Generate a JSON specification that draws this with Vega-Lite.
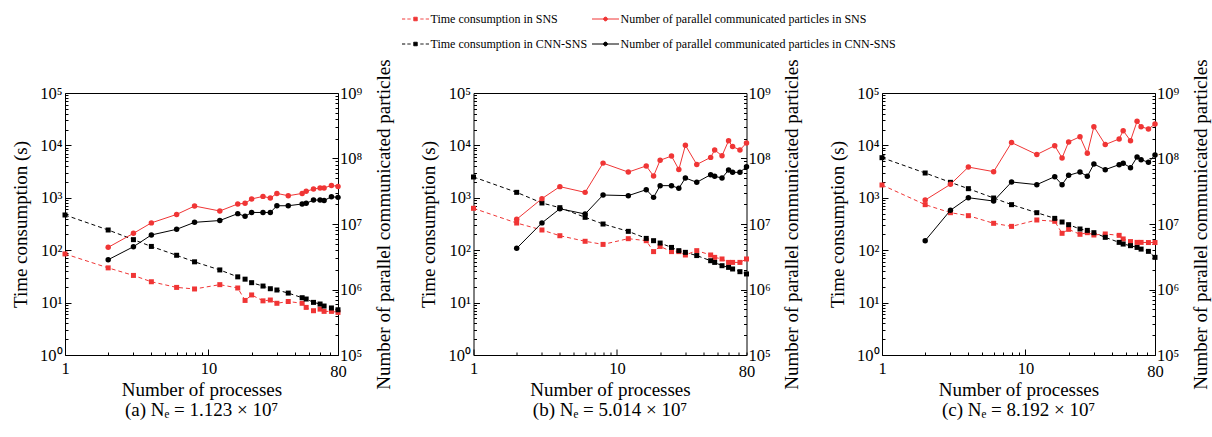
{
"$schema": "https://vega.github.io/schema/vega-lite/v6.json",
"background": "white",
"padding": {"left": 10, "top": 4, "right": 2, "bottom": 2},
"bounds": "flush",
"spacing": 135.5,
"config": {
  "font": "Liberation Serif",
  "view": {"stroke": "black", "strokeWidth": 1},
  "axis": {"grid": false, "domain": false, "labelFont": "Liberation Serif", "labelFontSize": 16.5, "labelColor": "black", "titleFont": "Liberation Serif", "titleFontSize": 19, "titleFontWeight": "normal", "titleColor": "black", "tickColor": "black", "tickWidth": 1, "labelOverlap": false, "labelFlush": false},
  "title": {"font": "Liberation Serif", "fontSize": 19, "fontWeight": "normal", "color": "black"}
},
"resolve": {"scale": {"color": "independent"}, "legend": {"color": "independent"}},
"data": {"values": [
{"panel":"a","series":"Time consumption in SNS","processes":1,"value":85},
{"panel":"a","series":"Time consumption in SNS","processes":2,"value":46},
{"panel":"a","series":"Time consumption in SNS","processes":3,"value":33},
{"panel":"a","series":"Time consumption in SNS","processes":4,"value":25},
{"panel":"a","series":"Time consumption in SNS","processes":6,"value":19.5},
{"panel":"a","series":"Time consumption in SNS","processes":8,"value":18.2},
{"panel":"a","series":"Time consumption in SNS","processes":12,"value":22},
{"panel":"a","series":"Time consumption in SNS","processes":16,"value":19},
{"panel":"a","series":"Time consumption in SNS","processes":18,"value":11},
{"panel":"a","series":"Time consumption in SNS","processes":20,"value":14},
{"panel":"a","series":"Time consumption in SNS","processes":24,"value":10.8},
{"panel":"a","series":"Time consumption in SNS","processes":27,"value":11.2},
{"panel":"a","series":"Time consumption in SNS","processes":30,"value":9.7},
{"panel":"a","series":"Time consumption in SNS","processes":36,"value":10.5},
{"panel":"a","series":"Time consumption in SNS","processes":45,"value":9.7},
{"panel":"a","series":"Time consumption in SNS","processes":48,"value":8.1},
{"panel":"a","series":"Time consumption in SNS","processes":54,"value":7.0},
{"panel":"a","series":"Time consumption in SNS","processes":60,"value":7.5},
{"panel":"a","series":"Time consumption in SNS","processes":64,"value":6.8},
{"panel":"a","series":"Time consumption in SNS","processes":72,"value":6.8},
{"panel":"a","series":"Time consumption in SNS","processes":80,"value":6.5},
{"panel":"a","series":"Time consumption in CNN-SNS","processes":1,"value":470},
{"panel":"a","series":"Time consumption in CNN-SNS","processes":2,"value":243},
{"panel":"a","series":"Time consumption in CNN-SNS","processes":3,"value":159},
{"panel":"a","series":"Time consumption in CNN-SNS","processes":4,"value":118},
{"panel":"a","series":"Time consumption in CNN-SNS","processes":6,"value":80},
{"panel":"a","series":"Time consumption in CNN-SNS","processes":8,"value":60},
{"panel":"a","series":"Time consumption in CNN-SNS","processes":12,"value":42},
{"panel":"a","series":"Time consumption in CNN-SNS","processes":16,"value":31},
{"panel":"a","series":"Time consumption in CNN-SNS","processes":18,"value":28},
{"panel":"a","series":"Time consumption in CNN-SNS","processes":20,"value":24},
{"panel":"a","series":"Time consumption in CNN-SNS","processes":24,"value":20.7},
{"panel":"a","series":"Time consumption in CNN-SNS","processes":27,"value":18.4},
{"panel":"a","series":"Time consumption in CNN-SNS","processes":30,"value":17.4},
{"panel":"a","series":"Time consumption in CNN-SNS","processes":36,"value":15.2},
{"panel":"a","series":"Time consumption in CNN-SNS","processes":45,"value":12.4},
{"panel":"a","series":"Time consumption in CNN-SNS","processes":48,"value":11.7},
{"panel":"a","series":"Time consumption in CNN-SNS","processes":54,"value":10.1},
{"panel":"a","series":"Time consumption in CNN-SNS","processes":60,"value":9.4},
{"panel":"a","series":"Time consumption in CNN-SNS","processes":64,"value":8.6},
{"panel":"a","series":"Time consumption in CNN-SNS","processes":72,"value":7.9},
{"panel":"a","series":"Time consumption in CNN-SNS","processes":80,"value":7.3},
{"panel":"a","series":"Number of parallel communicated particles in SNS","processes":2,"value":4400000},
{"panel":"a","series":"Number of parallel communicated particles in SNS","processes":3,"value":7200000},
{"panel":"a","series":"Number of parallel communicated particles in SNS","processes":4,"value":10400000},
{"panel":"a","series":"Number of parallel communicated particles in SNS","processes":6,"value":14000000},
{"panel":"a","series":"Number of parallel communicated particles in SNS","processes":8,"value":18800000},
{"panel":"a","series":"Number of parallel communicated particles in SNS","processes":12,"value":15800000},
{"panel":"a","series":"Number of parallel communicated particles in SNS","processes":16,"value":20200000},
{"panel":"a","series":"Number of parallel communicated particles in SNS","processes":18,"value":20700000},
{"panel":"a","series":"Number of parallel communicated particles in SNS","processes":20,"value":24100000},
{"panel":"a","series":"Number of parallel communicated particles in SNS","processes":24,"value":26400000},
{"panel":"a","series":"Number of parallel communicated particles in SNS","processes":27,"value":24900000},
{"panel":"a","series":"Number of parallel communicated particles in SNS","processes":30,"value":29300000},
{"panel":"a","series":"Number of parallel communicated particles in SNS","processes":36,"value":27000000},
{"panel":"a","series":"Number of parallel communicated particles in SNS","processes":45,"value":29300000},
{"panel":"a","series":"Number of parallel communicated particles in SNS","processes":48,"value":31500000},
{"panel":"a","series":"Number of parallel communicated particles in SNS","processes":54,"value":34200000},
{"panel":"a","series":"Number of parallel communicated particles in SNS","processes":60,"value":35500000},
{"panel":"a","series":"Number of parallel communicated particles in SNS","processes":64,"value":35500000},
{"panel":"a","series":"Number of parallel communicated particles in SNS","processes":72,"value":38800000},
{"panel":"a","series":"Number of parallel communicated particles in SNS","processes":80,"value":37500000},
{"panel":"a","series":"Number of parallel communicated particles in CNN-SNS","processes":2,"value":2850000},
{"panel":"a","series":"Number of parallel communicated particles in CNN-SNS","processes":3,"value":4500000},
{"panel":"a","series":"Number of parallel communicated particles in CNN-SNS","processes":4,"value":6800000},
{"panel":"a","series":"Number of parallel communicated particles in CNN-SNS","processes":6,"value":8300000},
{"panel":"a","series":"Number of parallel communicated particles in CNN-SNS","processes":8,"value":10600000},
{"panel":"a","series":"Number of parallel communicated particles in CNN-SNS","processes":12,"value":11300000},
{"panel":"a","series":"Number of parallel communicated particles in CNN-SNS","processes":16,"value":14400000},
{"panel":"a","series":"Number of parallel communicated particles in CNN-SNS","processes":18,"value":13100000},
{"panel":"a","series":"Number of parallel communicated particles in CNN-SNS","processes":20,"value":15000000},
{"panel":"a","series":"Number of parallel communicated particles in CNN-SNS","processes":24,"value":15000000},
{"panel":"a","series":"Number of parallel communicated particles in CNN-SNS","processes":27,"value":15000000},
{"panel":"a","series":"Number of parallel communicated particles in CNN-SNS","processes":30,"value":19000000},
{"panel":"a","series":"Number of parallel communicated particles in CNN-SNS","processes":36,"value":19000000},
{"panel":"a","series":"Number of parallel communicated particles in CNN-SNS","processes":45,"value":20200000},
{"panel":"a","series":"Number of parallel communicated particles in CNN-SNS","processes":48,"value":20700000},
{"panel":"a","series":"Number of parallel communicated particles in CNN-SNS","processes":54,"value":23200000},
{"panel":"a","series":"Number of parallel communicated particles in CNN-SNS","processes":60,"value":23200000},
{"panel":"a","series":"Number of parallel communicated particles in CNN-SNS","processes":64,"value":22800000},
{"panel":"a","series":"Number of parallel communicated particles in CNN-SNS","processes":72,"value":26100000},
{"panel":"a","series":"Number of parallel communicated particles in CNN-SNS","processes":80,"value":25500000},
{"panel":"b","series":"Time consumption in SNS","processes":1,"value":630},
{"panel":"b","series":"Time consumption in SNS","processes":2,"value":330},
{"panel":"b","series":"Time consumption in SNS","processes":3,"value":243},
{"panel":"b","series":"Time consumption in SNS","processes":4,"value":189},
{"panel":"b","series":"Time consumption in SNS","processes":6,"value":148},
{"panel":"b","series":"Time consumption in SNS","processes":8,"value":129},
{"panel":"b","series":"Time consumption in SNS","processes":12,"value":166},
{"panel":"b","series":"Time consumption in SNS","processes":16,"value":152},
{"panel":"b","series":"Time consumption in SNS","processes":18,"value":94},
{"panel":"b","series":"Time consumption in SNS","processes":20,"value":118},
{"panel":"b","series":"Time consumption in SNS","processes":24,"value":94},
{"panel":"b","series":"Time consumption in SNS","processes":27,"value":94},
{"panel":"b","series":"Time consumption in SNS","processes":30,"value":81},
{"panel":"b","series":"Time consumption in SNS","processes":36,"value":98},
{"panel":"b","series":"Time consumption in SNS","processes":45,"value":81},
{"panel":"b","series":"Time consumption in SNS","processes":48,"value":73},
{"panel":"b","series":"Time consumption in SNS","processes":54,"value":68},
{"panel":"b","series":"Time consumption in SNS","processes":60,"value":58.5},
{"panel":"b","series":"Time consumption in SNS","processes":64,"value":58.5},
{"panel":"b","series":"Time consumption in SNS","processes":72,"value":58.5},
{"panel":"b","series":"Time consumption in SNS","processes":80,"value":68},
{"panel":"b","series":"Time consumption in CNN-SNS","processes":1,"value":2495},
{"panel":"b","series":"Time consumption in CNN-SNS","processes":2,"value":1271},
{"panel":"b","series":"Time consumption in CNN-SNS","processes":3,"value":796},
{"panel":"b","series":"Time consumption in CNN-SNS","processes":4,"value":648},
{"panel":"b","series":"Time consumption in CNN-SNS","processes":6,"value":424},
{"panel":"b","series":"Time consumption in CNN-SNS","processes":8,"value":316},
{"panel":"b","series":"Time consumption in CNN-SNS","processes":12,"value":229},
{"panel":"b","series":"Time consumption in CNN-SNS","processes":16,"value":168},
{"panel":"b","series":"Time consumption in CNN-SNS","processes":18,"value":152},
{"panel":"b","series":"Time consumption in CNN-SNS","processes":20,"value":137},
{"panel":"b","series":"Time consumption in CNN-SNS","processes":24,"value":113},
{"panel":"b","series":"Time consumption in CNN-SNS","processes":27,"value":98},
{"panel":"b","series":"Time consumption in CNN-SNS","processes":30,"value":91},
{"panel":"b","series":"Time consumption in CNN-SNS","processes":36,"value":79},
{"panel":"b","series":"Time consumption in CNN-SNS","processes":45,"value":63},
{"panel":"b","series":"Time consumption in CNN-SNS","processes":48,"value":58.5},
{"panel":"b","series":"Time consumption in CNN-SNS","processes":54,"value":50.6},
{"panel":"b","series":"Time consumption in CNN-SNS","processes":60,"value":47},
{"panel":"b","series":"Time consumption in CNN-SNS","processes":64,"value":43.8},
{"panel":"b","series":"Time consumption in CNN-SNS","processes":72,"value":38.9},
{"panel":"b","series":"Time consumption in CNN-SNS","processes":80,"value":35.2},
{"panel":"b","series":"Number of parallel communicated particles in SNS","processes":2,"value":11800000},
{"panel":"b","series":"Number of parallel communicated particles in SNS","processes":3,"value":24400000},
{"panel":"b","series":"Number of parallel communicated particles in SNS","processes":4,"value":37200000},
{"panel":"b","series":"Number of parallel communicated particles in SNS","processes":6,"value":30400000},
{"panel":"b","series":"Number of parallel communicated particles in SNS","processes":8,"value":85000000},
{"panel":"b","series":"Number of parallel communicated particles in SNS","processes":12,"value":62000000},
{"panel":"b","series":"Number of parallel communicated particles in SNS","processes":16,"value":77000000},
{"panel":"b","series":"Number of parallel communicated particles in SNS","processes":18,"value":54000000},
{"panel":"b","series":"Number of parallel communicated particles in SNS","processes":20,"value":94000000},
{"panel":"b","series":"Number of parallel communicated particles in SNS","processes":24,"value":109000000},
{"panel":"b","series":"Number of parallel communicated particles in SNS","processes":27,"value":68000000},
{"panel":"b","series":"Number of parallel communicated particles in SNS","processes":30,"value":159000000},
{"panel":"b","series":"Number of parallel communicated particles in SNS","processes":36,"value":81000000},
{"panel":"b","series":"Number of parallel communicated particles in SNS","processes":45,"value":104000000},
{"panel":"b","series":"Number of parallel communicated particles in SNS","processes":48,"value":135000000},
{"panel":"b","series":"Number of parallel communicated particles in SNS","processes":54,"value":110000000},
{"panel":"b","series":"Number of parallel communicated particles in SNS","processes":60,"value":187000000},
{"panel":"b","series":"Number of parallel communicated particles in SNS","processes":64,"value":152000000},
{"panel":"b","series":"Number of parallel communicated particles in SNS","processes":72,"value":135000000},
{"panel":"b","series":"Number of parallel communicated particles in SNS","processes":80,"value":173000000},
{"panel":"b","series":"Number of parallel communicated particles in CNN-SNS","processes":2,"value":4250000},
{"panel":"b","series":"Number of parallel communicated particles in CNN-SNS","processes":3,"value":10400000},
{"panel":"b","series":"Number of parallel communicated particles in CNN-SNS","processes":4,"value":17100000},
{"panel":"b","series":"Number of parallel communicated particles in CNN-SNS","processes":6,"value":14200000},
{"panel":"b","series":"Number of parallel communicated particles in CNN-SNS","processes":8,"value":27700000},
{"panel":"b","series":"Number of parallel communicated particles in CNN-SNS","processes":12,"value":27100000},
{"panel":"b","series":"Number of parallel communicated particles in CNN-SNS","processes":16,"value":33400000},
{"panel":"b","series":"Number of parallel communicated particles in CNN-SNS","processes":18,"value":25500000},
{"panel":"b","series":"Number of parallel communicated particles in CNN-SNS","processes":20,"value":38500000},
{"panel":"b","series":"Number of parallel communicated particles in CNN-SNS","processes":24,"value":38500000},
{"panel":"b","series":"Number of parallel communicated particles in CNN-SNS","processes":27,"value":35000000},
{"panel":"b","series":"Number of parallel communicated particles in CNN-SNS","processes":30,"value":50400000},
{"panel":"b","series":"Number of parallel communicated particles in CNN-SNS","processes":36,"value":43300000},
{"panel":"b","series":"Number of parallel communicated particles in CNN-SNS","processes":45,"value":56600000},
{"panel":"b","series":"Number of parallel communicated particles in CNN-SNS","processes":48,"value":53400000},
{"panel":"b","series":"Number of parallel communicated particles in CNN-SNS","processes":54,"value":50400000},
{"panel":"b","series":"Number of parallel communicated particles in CNN-SNS","processes":60,"value":66700000},
{"panel":"b","series":"Number of parallel communicated particles in CNN-SNS","processes":64,"value":61500000},
{"panel":"b","series":"Number of parallel communicated particles in CNN-SNS","processes":72,"value":61500000},
{"panel":"b","series":"Number of parallel communicated particles in CNN-SNS","processes":80,"value":75000000},
{"panel":"c","series":"Time consumption in SNS","processes":1,"value":1755},
{"panel":"c","series":"Time consumption in SNS","processes":2,"value":740},
{"panel":"c","series":"Time consumption in SNS","processes":3,"value":520},
{"panel":"c","series":"Time consumption in SNS","processes":4,"value":456},
{"panel":"c","series":"Time consumption in SNS","processes":6,"value":326},
{"panel":"c","series":"Time consumption in SNS","processes":8,"value":285},
{"panel":"c","series":"Time consumption in SNS","processes":12,"value":377},
{"panel":"c","series":"Time consumption in SNS","processes":16,"value":356},
{"panel":"c","series":"Time consumption in SNS","processes":18,"value":210},
{"panel":"c","series":"Time consumption in SNS","processes":20,"value":250},
{"panel":"c","series":"Time consumption in SNS","processes":24,"value":201},
{"panel":"c","series":"Time consumption in SNS","processes":27,"value":216},
{"panel":"c","series":"Time consumption in SNS","processes":30,"value":195},
{"panel":"c","series":"Time consumption in SNS","processes":36,"value":204},
{"panel":"c","series":"Time consumption in SNS","processes":45,"value":192},
{"panel":"c","series":"Time consumption in SNS","processes":48,"value":164},
{"panel":"c","series":"Time consumption in SNS","processes":54,"value":146},
{"panel":"c","series":"Time consumption in SNS","processes":60,"value":141},
{"panel":"c","series":"Time consumption in SNS","processes":64,"value":141},
{"panel":"c","series":"Time consumption in SNS","processes":72,"value":140},
{"panel":"c","series":"Time consumption in SNS","processes":80,"value":140},
{"panel":"c","series":"Time consumption in CNN-SNS","processes":1,"value":5830},
{"panel":"c","series":"Time consumption in CNN-SNS","processes":2,"value":2973},
{"panel":"c","series":"Time consumption in CNN-SNS","processes":3,"value":1973},
{"panel":"c","series":"Time consumption in CNN-SNS","processes":4,"value":1494},
{"panel":"c","series":"Time consumption in CNN-SNS","processes":6,"value":991},
{"panel":"c","series":"Time consumption in CNN-SNS","processes":8,"value":740},
{"panel":"c","series":"Time consumption in CNN-SNS","processes":12,"value":520},
{"panel":"c","series":"Time consumption in CNN-SNS","processes":16,"value":405},
{"panel":"c","series":"Time consumption in CNN-SNS","processes":18,"value":345},
{"panel":"c","series":"Time consumption in CNN-SNS","processes":20,"value":307},
{"panel":"c","series":"Time consumption in CNN-SNS","processes":24,"value":254},
{"panel":"c","series":"Time consumption in CNN-SNS","processes":27,"value":239},
{"panel":"c","series":"Time consumption in CNN-SNS","processes":30,"value":216},
{"panel":"c","series":"Time consumption in CNN-SNS","processes":36,"value":176},
{"panel":"c","series":"Time consumption in CNN-SNS","processes":45,"value":141},
{"panel":"c","series":"Time consumption in CNN-SNS","processes":48,"value":131},
{"panel":"c","series":"Time consumption in CNN-SNS","processes":54,"value":122},
{"panel":"c","series":"Time consumption in CNN-SNS","processes":60,"value":113},
{"panel":"c","series":"Time consumption in CNN-SNS","processes":64,"value":105},
{"panel":"c","series":"Time consumption in CNN-SNS","processes":72,"value":95},
{"panel":"c","series":"Time consumption in CNN-SNS","processes":80,"value":73},
{"panel":"c","series":"Number of parallel communicated particles in SNS","processes":2,"value":23200000},
{"panel":"c","series":"Number of parallel communicated particles in SNS","processes":3,"value":40300000},
{"panel":"c","series":"Number of parallel communicated particles in SNS","processes":4,"value":74000000},
{"panel":"c","series":"Number of parallel communicated particles in SNS","processes":6,"value":63000000},
{"panel":"c","series":"Number of parallel communicated particles in SNS","processes":8,"value":175000000},
{"panel":"c","series":"Number of parallel communicated particles in SNS","processes":12,"value":115000000},
{"panel":"c","series":"Number of parallel communicated particles in SNS","processes":16,"value":157000000},
{"panel":"c","series":"Number of parallel communicated particles in SNS","processes":18,"value":102000000},
{"panel":"c","series":"Number of parallel communicated particles in SNS","processes":20,"value":179000000},
{"panel":"c","series":"Number of parallel communicated particles in SNS","processes":24,"value":215000000},
{"panel":"c","series":"Number of parallel communicated particles in SNS","processes":27,"value":120000000},
{"panel":"c","series":"Number of parallel communicated particles in SNS","processes":30,"value":306000000},
{"panel":"c","series":"Number of parallel communicated particles in SNS","processes":36,"value":163000000},
{"panel":"c","series":"Number of parallel communicated particles in SNS","processes":45,"value":199000000},
{"panel":"c","series":"Number of parallel communicated particles in SNS","processes":48,"value":266000000},
{"panel":"c","series":"Number of parallel communicated particles in SNS","processes":54,"value":187000000},
{"panel":"c","series":"Number of parallel communicated particles in SNS","processes":60,"value":369000000},
{"panel":"c","series":"Number of parallel communicated particles in SNS","processes":64,"value":306000000},
{"panel":"c","series":"Number of parallel communicated particles in SNS","processes":72,"value":282000000},
{"panel":"c","series":"Number of parallel communicated particles in SNS","processes":80,"value":336000000},
{"panel":"c","series":"Number of parallel communicated particles in CNN-SNS","processes":2,"value":5570000},
{"panel":"c","series":"Number of parallel communicated particles in CNN-SNS","processes":3,"value":16200000},
{"panel":"c","series":"Number of parallel communicated particles in CNN-SNS","processes":4,"value":25200000},
{"panel":"c","series":"Number of parallel communicated particles in CNN-SNS","processes":6,"value":22400000},
{"panel":"c","series":"Number of parallel communicated particles in CNN-SNS","processes":8,"value":43800000},
{"panel":"c","series":"Number of parallel communicated particles in CNN-SNS","processes":12,"value":39900000},
{"panel":"c","series":"Number of parallel communicated particles in CNN-SNS","processes":16,"value":52800000},
{"panel":"c","series":"Number of parallel communicated particles in CNN-SNS","processes":18,"value":39900000},
{"panel":"c","series":"Number of parallel communicated particles in CNN-SNS","processes":20,"value":55300000},
{"panel":"c","series":"Number of parallel communicated particles in CNN-SNS","processes":24,"value":62200000},
{"panel":"c","series":"Number of parallel communicated particles in CNN-SNS","processes":27,"value":53400000},
{"panel":"c","series":"Number of parallel communicated particles in CNN-SNS","processes":30,"value":82400000},
{"panel":"c","series":"Number of parallel communicated particles in CNN-SNS","processes":36,"value":67600000},
{"panel":"c","series":"Number of parallel communicated particles in CNN-SNS","processes":45,"value":80500000},
{"panel":"c","series":"Number of parallel communicated particles in CNN-SNS","processes":48,"value":84400000},
{"panel":"c","series":"Number of parallel communicated particles in CNN-SNS","processes":54,"value":72400000},
{"panel":"c","series":"Number of parallel communicated particles in CNN-SNS","processes":60,"value":105000000},
{"panel":"c","series":"Number of parallel communicated particles in CNN-SNS","processes":64,"value":96000000},
{"panel":"c","series":"Number of parallel communicated particles in CNN-SNS","processes":72,"value":87400000},
{"panel":"c","series":"Number of parallel communicated particles in CNN-SNS","processes":80,"value":113000000}
]},
"hconcat": [
{
 "width": 273, "height": 262,
 "title": {"text": "(a) Nₑ = 1.123 × 10⁷", "orient": "bottom", "offset": 2, "anchor": "middle"},
 "transform": [{"filter": "datum.panel === 'a'"}],
 "encoding": {
   "x": {"field": "processes", "type": "quantitative", "scale": {"type": "log", "domain": [1, 80], "nice": false},
     "axis": {"title": "Number of processes", "values": [1,2,3,4,5,6,7,8,9,10,20,30,40,50,60,70,80], "labelExpr": "datum.value === 1 ? '1' : datum.value === 10 ? '10' : datum.value === 80 ? '80' : ''", "tickSize": {"condition": {"test": "datum.value === 1 || datum.value === 10", "value": -6}, "value": -3}, "labelPadding": 11, "titleY": 34, "titleBaseline": "middle"}},
   "color": {"field": "series", "type": "nominal", "scale": {"domain": ["Time consumption in SNS", "Number of parallel communicated particles in SNS", "Time consumption in CNN-SNS", "Number of parallel communicated particles in CNN-SNS"], "range": ["#f03535", "#f03535", "#000000", "#000000"]}, "legend": null}
 },
 "layer": [
   {"transform": [{"filter": "indexof(datum.series, 'Time') === 0"}],
    "encoding": {"y": {"field": "value", "type": "quantitative", "scale": {"type": "log", "domain": [1, 100000], "nice": false},
      "axis": {"title": "Time consumption (s)", "orient": "left", "values": [1,2,3,4,5,6,7,8,9,10,20,30,40,50,60,70,80,90,100,200,300,400,500,600,700,800,900,1000,2000,3000,4000,5000,6000,7000,8000,9000,10000,20000,30000,40000,50000,60000,70000,80000,90000,100000], "labelExpr": "abs(log(datum.value)/LN10 - round(log(datum.value)/LN10)) < 0.001 ? '10' + substring('⁰¹²³⁴⁵⁶⁷⁸⁹', round(log(datum.value)/LN10), round(log(datum.value)/LN10) + 1) : ''", "tickSize": {"condition": {"test": "abs(log(datum.value)/LN10 - round(log(datum.value)/LN10)) < 0.001", "value": -6}, "value": -3}, "labelPadding": 9, "titleX": -45, "titleBaseline": "middle"}}},
    "layer": [
      {"mark": {"type": "line", "strokeDash": [4, 3], "strokeWidth": 1}},
      {"mark": {"type": "square", "size": 25, "filled": true, "opacity": 1}}
    ]},
   {"transform": [{"filter": "indexof(datum.series, 'Number') === 0"}],
    "encoding": {"y": {"field": "value", "type": "quantitative", "scale": {"type": "log", "domain": [100000, 1000000000], "nice": false},
      "axis": {"title": "Number of parallel communicated particles", "orient": "right", "values": [100000,200000,300000,400000,500000,600000,700000,800000,900000,1000000,2000000,3000000,4000000,5000000,6000000,7000000,8000000,9000000,10000000,20000000,30000000,40000000,50000000,60000000,70000000,80000000,90000000,100000000,200000000,300000000,400000000,500000000,600000000,700000000,800000000,900000000,1000000000], "labelExpr": "abs(log(datum.value)/LN10 - round(log(datum.value)/LN10)) < 0.001 ? '10' + substring('⁰¹²³⁴⁵⁶⁷⁸⁹', round(log(datum.value)/LN10), round(log(datum.value)/LN10) + 1) : ''", "tickSize": {"condition": {"test": "abs(log(datum.value)/LN10 - round(log(datum.value)/LN10)) < 0.001", "value": -6}, "value": -3}, "labelPadding": 7.5, "titleX": 45, "titleAngle": 270, "titleBaseline": "middle"}}},
    "layer": [
      {"mark": {"type": "line", "strokeWidth": 1}},
      {"mark": {"type": "circle", "size": 30, "opacity": 1}}
    ]}
 ],
 "resolve": {"scale": {"y": "independent"}}
},
{
 "width": 273, "height": 262,
 "title": {"text": "(b) Nₑ = 5.014 × 10⁷", "orient": "bottom", "offset": 2, "anchor": "middle"},
 "transform": [{"filter": "datum.panel === 'b'"}],
 "encoding": {
   "x": {"field": "processes", "type": "quantitative", "scale": {"type": "log", "domain": [1, 80], "nice": false},
     "axis": {"title": "Number of processes", "values": [1,2,3,4,5,6,7,8,9,10,20,30,40,50,60,70,80], "labelExpr": "datum.value === 1 ? '1' : datum.value === 10 ? '10' : datum.value === 80 ? '80' : ''", "tickSize": {"condition": {"test": "datum.value === 1 || datum.value === 10", "value": -6}, "value": -3}, "labelPadding": 11, "titleY": 34, "titleBaseline": "middle"}},
   "color": {"field": "series", "type": "nominal", "scale": {"domain": ["Time consumption in SNS", "Number of parallel communicated particles in SNS", "Time consumption in CNN-SNS", "Number of parallel communicated particles in CNN-SNS"], "range": ["#f03535", "#f03535", "#000000", "#000000"]},
     "legend": {"orient": "none", "legendX": -72, "legendY": -88, "direction": "horizontal", "columns": 2, "title": null, "padding": 0, "symbolSize": 729, "symbolStrokeWidth": 1, "labelFont": "Liberation Serif", "labelFontSize": 12, "labelColor": "black", "labelLimit": 600, "labelOffset": 1, "columnPadding": 2, "rowPadding": 5,
       "encode": {"symbols": {"update": {
         "shape": {"signal": "indexof(datum.value, 'Time') === 0 ? 'M-1,0H-0.76M-0.6,0H-0.36M0.36,0H0.6M0.76,0H1M-0.13,-0.13H0.13V0.13H-0.13Z' : 'M-1,0H1M-0.14,0A0.14,0.14 0 1,0 0.14,0A0.14,0.14 0 1,0 -0.14,0Z'"},
         "fill": {"signal": "indexof(datum.value, 'in SNS') >= 0 ? '#f03535' : '#000000'"},
         "stroke": {"signal": "indexof(datum.value, 'in SNS') >= 0 ? '#f03535' : '#000000'"},
         "strokeWidth": {"value": 1},
         "strokeDash": {"value": [1, 0]},
         "opacity": {"value": 1}
       }}}}}
 },
 "layer": [
   {"transform": [{"filter": "indexof(datum.series, 'Time') === 0"}],
    "encoding": {"y": {"field": "value", "type": "quantitative", "scale": {"type": "log", "domain": [1, 100000], "nice": false},
      "axis": {"title": "Time consumption (s)", "orient": "left", "values": [1,2,3,4,5,6,7,8,9,10,20,30,40,50,60,70,80,90,100,200,300,400,500,600,700,800,900,1000,2000,3000,4000,5000,6000,7000,8000,9000,10000,20000,30000,40000,50000,60000,70000,80000,90000,100000], "labelExpr": "abs(log(datum.value)/LN10 - round(log(datum.value)/LN10)) < 0.001 ? '10' + substring('⁰¹²³⁴⁵⁶⁷⁸⁹', round(log(datum.value)/LN10), round(log(datum.value)/LN10) + 1) : ''", "tickSize": {"condition": {"test": "abs(log(datum.value)/LN10 - round(log(datum.value)/LN10)) < 0.001", "value": -6}, "value": -3}, "labelPadding": 9, "titleX": -45, "titleBaseline": "middle"}}},
    "layer": [
      {"mark": {"type": "line", "strokeDash": [4, 3], "strokeWidth": 1}},
      {"mark": {"type": "square", "size": 25, "filled": true, "opacity": 1}}
    ]},
   {"transform": [{"filter": "indexof(datum.series, 'Number') === 0"}],
    "encoding": {"y": {"field": "value", "type": "quantitative", "scale": {"type": "log", "domain": [100000, 1000000000], "nice": false},
      "axis": {"title": "Number of parallel communicated particles", "orient": "right", "values": [100000,200000,300000,400000,500000,600000,700000,800000,900000,1000000,2000000,3000000,4000000,5000000,6000000,7000000,8000000,9000000,10000000,20000000,30000000,40000000,50000000,60000000,70000000,80000000,90000000,100000000,200000000,300000000,400000000,500000000,600000000,700000000,800000000,900000000,1000000000], "labelExpr": "abs(log(datum.value)/LN10 - round(log(datum.value)/LN10)) < 0.001 ? '10' + substring('⁰¹²³⁴⁵⁶⁷⁸⁹', round(log(datum.value)/LN10), round(log(datum.value)/LN10) + 1) : ''", "tickSize": {"condition": {"test": "abs(log(datum.value)/LN10 - round(log(datum.value)/LN10)) < 0.001", "value": -6}, "value": -3}, "labelPadding": 7.5, "titleX": 45, "titleAngle": 270, "titleBaseline": "middle"}}},
    "layer": [
      {"mark": {"type": "line", "strokeWidth": 1}},
      {"mark": {"type": "circle", "size": 30, "opacity": 1}}
    ]}
 ],
 "resolve": {"scale": {"y": "independent"}}
},
{
 "width": 273, "height": 262,
 "title": {"text": "(c) Nₑ = 8.192 × 10⁷", "orient": "bottom", "offset": 2, "anchor": "middle"},
 "transform": [{"filter": "datum.panel === 'c'"}],
 "encoding": {
   "x": {"field": "processes", "type": "quantitative", "scale": {"type": "log", "domain": [1, 80], "nice": false},
     "axis": {"title": "Number of processes", "values": [1,2,3,4,5,6,7,8,9,10,20,30,40,50,60,70,80], "labelExpr": "datum.value === 1 ? '1' : datum.value === 10 ? '10' : datum.value === 80 ? '80' : ''", "tickSize": {"condition": {"test": "datum.value === 1 || datum.value === 10", "value": -6}, "value": -3}, "labelPadding": 11, "titleY": 34, "titleBaseline": "middle"}},
   "color": {"field": "series", "type": "nominal", "scale": {"domain": ["Time consumption in SNS", "Number of parallel communicated particles in SNS", "Time consumption in CNN-SNS", "Number of parallel communicated particles in CNN-SNS"], "range": ["#f03535", "#f03535", "#000000", "#000000"]}, "legend": null}
 },
 "layer": [
   {"transform": [{"filter": "indexof(datum.series, 'Time') === 0"}],
    "encoding": {"y": {"field": "value", "type": "quantitative", "scale": {"type": "log", "domain": [1, 100000], "nice": false},
      "axis": {"title": "Time consumption (s)", "orient": "left", "values": [1,2,3,4,5,6,7,8,9,10,20,30,40,50,60,70,80,90,100,200,300,400,500,600,700,800,900,1000,2000,3000,4000,5000,6000,7000,8000,9000,10000,20000,30000,40000,50000,60000,70000,80000,90000,100000], "labelExpr": "abs(log(datum.value)/LN10 - round(log(datum.value)/LN10)) < 0.001 ? '10' + substring('⁰¹²³⁴⁵⁶⁷⁸⁹', round(log(datum.value)/LN10), round(log(datum.value)/LN10) + 1) : ''", "tickSize": {"condition": {"test": "abs(log(datum.value)/LN10 - round(log(datum.value)/LN10)) < 0.001", "value": -6}, "value": -3}, "labelPadding": 9, "titleX": -45, "titleBaseline": "middle"}}},
    "layer": [
      {"mark": {"type": "line", "strokeDash": [4, 3], "strokeWidth": 1}},
      {"mark": {"type": "square", "size": 25, "filled": true, "opacity": 1}}
    ]},
   {"transform": [{"filter": "indexof(datum.series, 'Number') === 0"}],
    "encoding": {"y": {"field": "value", "type": "quantitative", "scale": {"type": "log", "domain": [100000, 1000000000], "nice": false},
      "axis": {"title": "Number of parallel communicated particles", "orient": "right", "values": [100000,200000,300000,400000,500000,600000,700000,800000,900000,1000000,2000000,3000000,4000000,5000000,6000000,7000000,8000000,9000000,10000000,20000000,30000000,40000000,50000000,60000000,70000000,80000000,90000000,100000000,200000000,300000000,400000000,500000000,600000000,700000000,800000000,900000000,1000000000], "labelExpr": "abs(log(datum.value)/LN10 - round(log(datum.value)/LN10)) < 0.001 ? '10' + substring('⁰¹²³⁴⁵⁶⁷⁸⁹', round(log(datum.value)/LN10), round(log(datum.value)/LN10) + 1) : ''", "tickSize": {"condition": {"test": "abs(log(datum.value)/LN10 - round(log(datum.value)/LN10)) < 0.001", "value": -6}, "value": -3}, "labelPadding": 7.5, "titleX": 45, "titleAngle": 270, "titleBaseline": "middle"}}},
    "layer": [
      {"mark": {"type": "line", "strokeWidth": 1}},
      {"mark": {"type": "circle", "size": 30, "opacity": 1}}
    ]}
 ],
 "resolve": {"scale": {"y": "independent"}}
}
]
}
